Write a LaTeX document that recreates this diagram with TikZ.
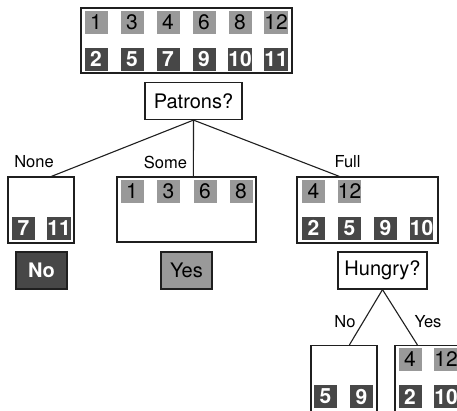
\documentclass[tikz,border=0pt]{standalone}
\usepackage{fontspec}
\setmainfont{TeX Gyre Heros}
\usetikzlibrary{calc}
\definecolor{lt}{gray}{0.60}
\definecolor{dk}{gray}{0.28}
\definecolor{ln}{gray}{0.12}
\tikzset{
  frame/.style={draw=ln, line width=1.2pt, fill=white, inner sep=0pt},
  question/.style={frame, minimum height=37pt, font=\fontsize{20}{23}\selectfont},
  ltile/.style={fill=lt, minimum width=23pt, minimum height=23pt, inner sep=0pt, text=black, font=\fontsize{21}{24}\selectfont},
  dtile/.style={fill=dk, minimum width=23pt, minimum height=23pt, inner sep=0pt, text=white, font=\fontsize{21}{24}\selectfont\bfseries},
  ansyes/.style={draw=ln, line width=1.2pt, fill=lt, minimum width=51pt, minimum height=37pt, inner sep=0pt, font=\fontsize{20}{23}\selectfont},
  ansno/.style={draw=ln, line width=1.2pt, fill=dk, text=white, minimum width=51pt, minimum height=37pt, inner sep=0pt, font=\fontsize{20}{23}\selectfont\bfseries},
  lbl/.style={inner sep=0pt, font=\fontsize{16.5}{19}\selectfont},
  conn/.style={draw=ln, line width=1.1pt}
}
\begin{document}
\begin{tikzpicture}[x=1pt,y=-1pt]
\useasboundingbox (0,0) rectangle (457,410);
\clip (0,0) rectangle (457,410);
\fill[white] (0,0) rectangle (457,410);
% top box
\node[frame, minimum width=211pt, minimum height=65pt] (top) at (186.5,40.5) {};
\foreach \n/\x in {1/96,3/132,4/168,6/204,8/240,12/276}
  \node[ltile] (t\n) at (\x,22.5) {\n};
\foreach \n/\x in {2/96,5/132,7/168,9/204,10/240,11/276}
  \node[dtile] (t\n) at (\x,59) {\n};
% Patrons
\node[question, minimum width=97pt] (patrons) at (193.5,101) {Patrons?};
% None branch
\node[frame, minimum width=66pt, minimum height=66pt] (nonebox) at (41,210) {};
\node[dtile] (n7) at (23.5,228.5) {7};
\node[dtile] (n11) at (59,228.5) {11};
\node[ansno] (ansno) at (41.5,270.5) {No};
% Some branch
\node[frame, minimum width=139pt, minimum height=65pt] (somebox) at (186.5,209.5) {};
\foreach \n/\x in {1/132,3/168.5,6/205,8/241}
  \node[ltile] (s\n) at (\x,191.5) {\n};
\node[ansyes] (ansyes) at (186.5,270.5) {Yes};
% Full branch
\node[frame, minimum width=141pt, minimum height=66pt] (fullbox) at (367.5,210) {};
\node[ltile] (f4) at (313.5,191.5) {4};
\node[ltile] (f12) at (349.5,191.5) {12};
\foreach \n/\x in {2/313.5,5/349.5,9/385.5,10/421.5}
  \node[dtile] (f\n) at (\x,228) {\n};
% Hungry
\node[question, minimum width=89pt] (hungry) at (382.5,270.5) {Hungry?};
% Hungry leaves
\node[frame, minimum width=66pt, minimum height=66pt] (hnobox) at (344,378.5) {};
\node[dtile] (h5) at (325.5,396.5) {5};
\node[dtile] (h9) at (361.5,396.5) {9};
\node[frame, minimum width=66pt, minimum height=66pt] (hyesbox) at (428,378.5) {};
\node[ltile] (y4) at (410,359) {4};
\node[ltile] (y12) at (446,359) {12};
\node[dtile] (y2) at (410,396.5) {2};
\node[dtile] (y10) at (446,396.5) {10};
% connectors
\draw[conn] (patrons.south) -- ([xshift=44pt]nonebox.north west);
\draw[conn] (patrons.south) -- ([xshift=77pt]somebox.north west);
\draw[conn] (patrons.south) -- ([xshift=43pt]fullbox.north west);
\draw[conn] (hungry.south) -- ([xshift=39pt]hnobox.north west);
\draw[conn] (hungry.south) -- ([xshift=23pt]hyesbox.north west);
% labels
\node[lbl] (lnone) at (34,162) {None};
\node[lbl] (lsome) at (165.5,162) {Some};
\node[lbl] (lfull) at (347.5,162) {Full};
\node[lbl] (lhno) at (345,322) {No};
\node[lbl] (lhyes) at (428,322) {Yes};
\end{tikzpicture}
\end{document}
